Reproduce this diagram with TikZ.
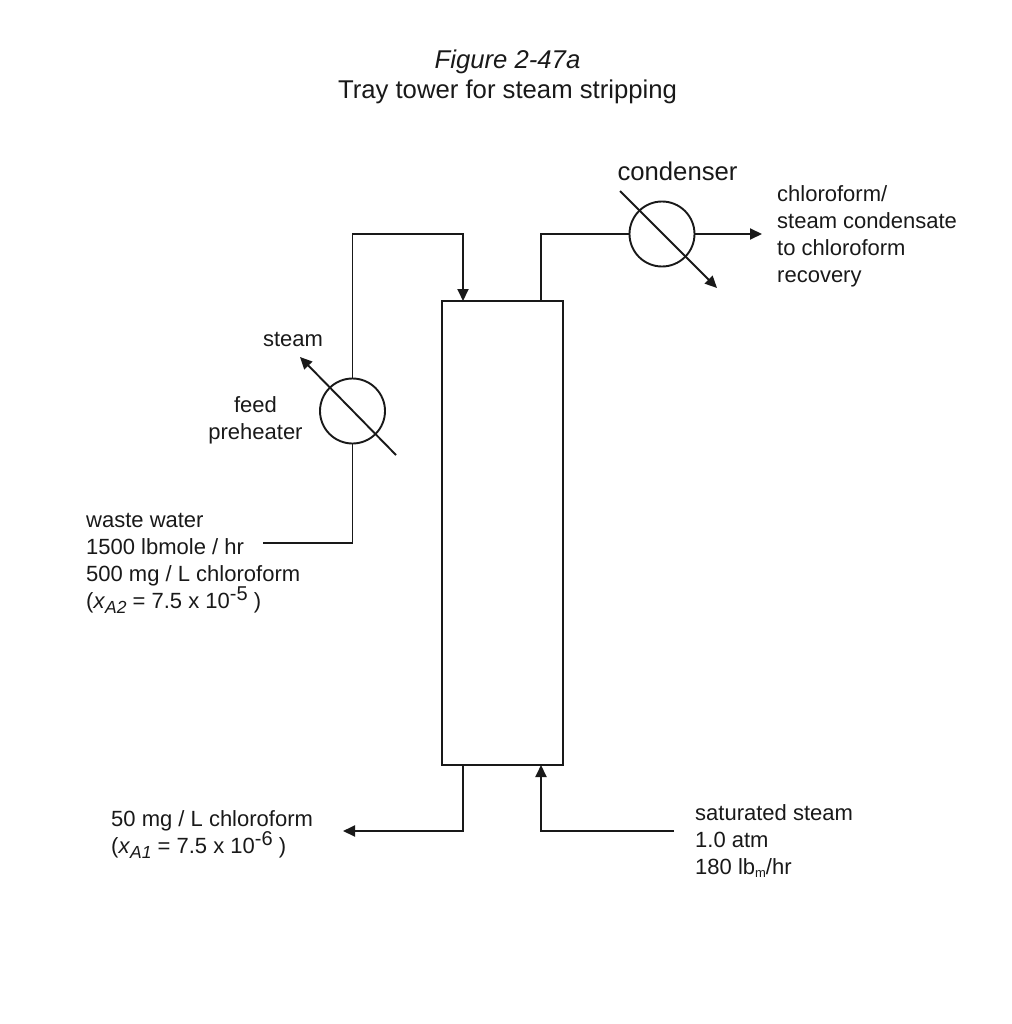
\documentclass[tikz,border=0pt]{standalone}
\usepackage{fontspec}
\setmainfont{Liberation Sans}
\usetikzlibrary{arrows.meta,calc}
\newcommand{\lblsize}{\fontsize{22}{27}\selectfont}
\newcommand{\ttlsize}{\fontsize{25.7}{30}\selectfont}
\newcommand{\subtxt}[1]{\raisebox{-5pt}{\fontsize{17.5}{17.5}\selectfont\itshape #1}}
\newcommand{\suptxt}[1]{\raisebox{8pt}{\fontsize{20}{20}\selectfont #1}}
\tikzset{
  x=1pt,y=-1pt,
  flow/.style={line width=1.9pt,line join=miter,black!90},
  flowarrow/.style={flow,-{Triangle[length=12pt,width=11pt]}},
  vessel/.style={draw=black!90,line width=1.9pt,fill=white,minimum width=121pt,minimum height=464pt,inner sep=0pt,outer sep=0pt},
  exchanger/.style={circle,draw=black!90,line width=1.9pt,minimum size=65pt,inner sep=0pt,outer sep=0pt},
  lbl/.style={font=\lblsize,align=left,inner sep=0pt,anchor=west,text=black!90},
  ctr/.style={font=\lblsize,align=center,inner sep=0pt,text=black!90},
}
\begin{document}
\begin{tikzpicture}
\useasboundingbox (0,0) rectangle (1011,1024);
\node[font=\ttlsize,align=center,inner sep=0pt,text=black!90] (title) at (507.5,76.5) {\textit{Figure 2-47a}\\Tray tower for steam stripping};
\node[vessel] (tower) at (502.5,533) {};
\node[exchanger] (cond) at (662,234) {};
\node[exchanger] (pre) at (352.5,411) {};
\node[font=\ttlsize,inner sep=0pt,text=black!90] (condlbl) at (677.5,171) {condenser};
\node[lbl] (prod) at (777,236.5) {chloroform/\\steam condensate\\to chloroform\\recovery};
\node[ctr] (steamlbl) at (293,339) {steam};
\node[ctr] (prelbl) at (255.5,420.5) {feed\\preheater};
\node[lbl] (feed) at (86,563) {waste water\\1500 lbmole / hr\\500 mg / L chloroform\\(\textit{x}\subtxt{A2} = 7.5 x 10\suptxt{-5} )};
\node[lbl] (bot) at (111,835) {50 mg / L chloroform\\(\textit{x}\subtxt{A1} = 7.5 x 10\suptxt{-6} )};
\node[lbl] (sat) at (695,841.5) {saturated steam\\1.0 atm\\180 lb\raisebox{-3pt}{\fontsize{13}{13}\selectfont m}/hr};
\coordinate (towerTL) at ($(tower.north west)+(21,0)$);
\coordinate (towerTR) at ($(tower.north west)+(99,0)$);
\coordinate (towerBL) at ($(tower.south west)+(21,0)$);
\coordinate (towerBR) at ($(tower.south west)+(99,0)$);
\coordinate (feedEnd) at (263,543);
\coordinate (botEnd) at (343,831);
\coordinate (satEnd) at (674,831);
\coordinate (prodEnd) at (762,234);
\coordinate (condA) at (620,191);
\coordinate (condB) at (717,288);
\coordinate (preA) at (396,455);
\coordinate (preB) at (300,357);
\draw[flow] (feedEnd) -| (pre.south);
\draw[flowarrow] (pre.north) |- (towerTL |- cond.west) -- (towerTL);
\draw[flow] (towerTR) |- (cond.west);
\draw[flowarrow] (cond.east) -- (prodEnd);
\draw[flowarrow] (condA) -- (condB);
\draw[flowarrow] (preA) -- (preB);
\draw[flowarrow] (towerBL) |- (botEnd);
\draw[flowarrow] (satEnd) -| (towerBR);
\end{tikzpicture}
\end{document}
